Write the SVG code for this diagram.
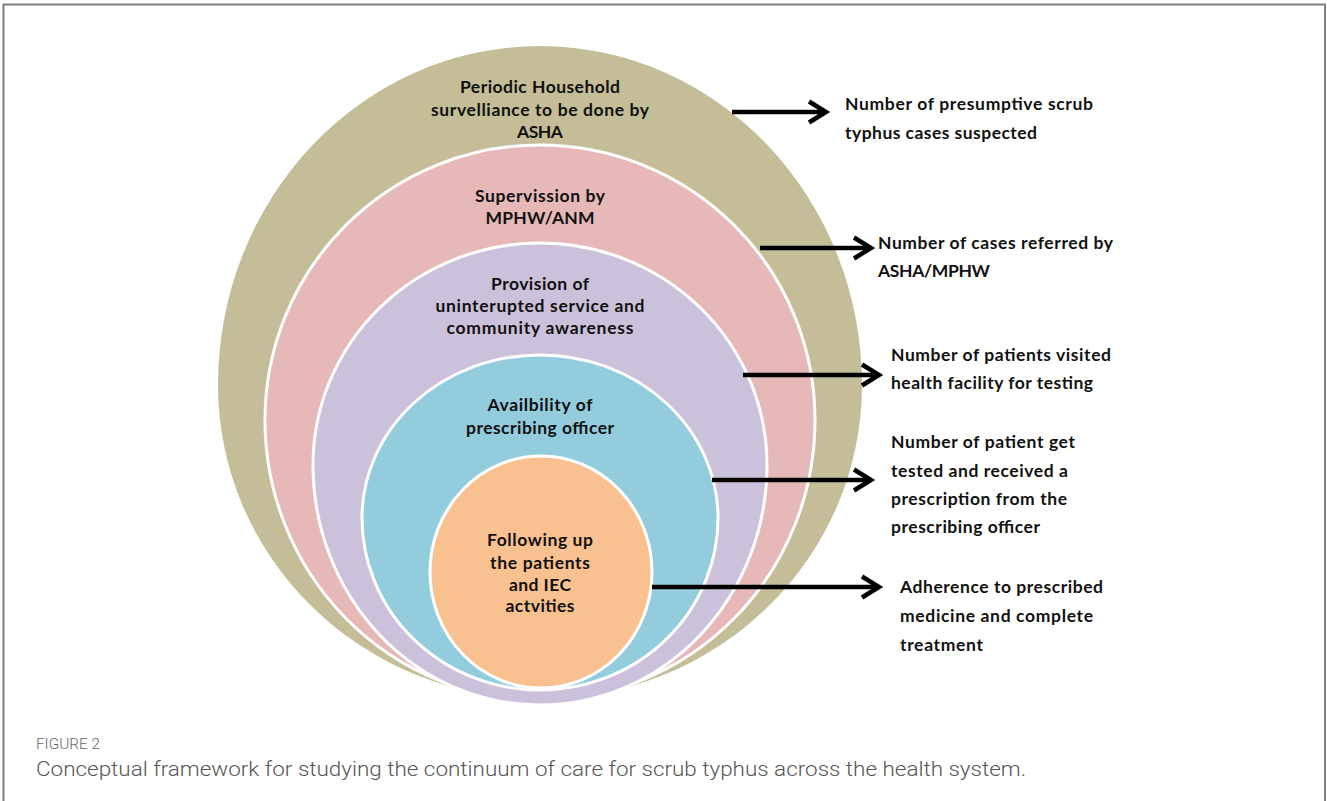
<svg xmlns="http://www.w3.org/2000/svg" width="1327" height="801" viewBox="0 0 1327 801">
  <style>
    .ring { stroke: #ffffff; stroke-width: 3; }
    .lbl { font-family: Lato, "Liberation Sans", sans-serif; font-weight: bold; font-size: 17.5px; fill: #111111; }
    .mid { text-anchor: middle; }
    .arrow { stroke: #000000; stroke-width: 4.5; fill: none; }
    .cap1 { font-family: Roboto, "Liberation Sans", sans-serif; font-weight: 300; font-size: 15px; fill: #666666; }
    .cap2 { font-family: Roboto, "Liberation Sans", sans-serif; font-weight: 300; font-size: 21px; fill: #555555; }
  </style>
  <defs>
    <marker id="chev" markerUnits="userSpaceOnUse" viewBox="-22 -14 30 28" markerWidth="30" markerHeight="28" refX="0" refY="0" orient="auto">
      <path d="M -17 -10.5 L 0 0 L -17 10.5" fill="none" stroke="#000000" stroke-width="4.5"/>
    </marker>
  </defs>

  <rect x="0" y="0" width="1327" height="801" fill="#ffffff"/>
  <!-- panel frame -->
  <rect x="3.5" y="4.5" width="1321.5" height="810" fill="none" stroke="#7f7f7f" stroke-width="2"/>

  <!-- nested egg-shaped levels, outermost first -->
  <g id="level-household">
    <path fill="#C4BD97" d="M 218 385 A 322 339 0 0 1 862 385 A 322 314 0 0 1 218 385 Z"/>
    <text class="lbl mid" x="540" y="93" textLength="160">Periodic Household</text>
    <text class="lbl mid" x="540" y="116" textLength="218">survelliance to be done by</text>
    <text class="lbl mid" x="540" y="138" textLength="46">ASHA</text>
  </g>
  <g id="level-supervision">
    <path class="ring" fill="#E6B8B7" d="M 265 420 A 275 275 0 0 1 815 420 A 275 280 0 0 1 265 420 Z"/>
    <text class="lbl mid" x="540" y="202" textLength="130">Supervission by</text>
    <text class="lbl mid" x="540" y="224" textLength="109">MPHW/ANM</text>
  </g>
  <g id="level-service">
    <path class="ring" fill="#CCC1DA" d="M 313 465 A 227 222 0 0 1 767 465 A 227 240 0 0 1 313 465 Z"/>
    <text class="lbl mid" x="540" y="290" textLength="98">Provision of</text>
    <text class="lbl mid" x="540" y="312" textLength="209">uninterupted service and</text>
    <text class="lbl mid" x="540" y="334" textLength="187">community awareness</text>
  </g>
  <g id="level-officer">
    <path class="ring" fill="#93CDDD" d="M 362 518 A 178 163 0 0 1 718 518 A 178 172 0 0 1 362 518 Z"/>
    <text class="lbl mid" x="540" y="411" textLength="105">Availbility of</text>
    <text class="lbl mid" x="540" y="434" textLength="148">prescribing officer</text>
  </g>
  <g id="level-followup">
    <path class="ring" fill="#F9C090" d="M 430 572 A 111 116 0 0 1 652 572 A 111 116 0 0 1 430 572 Z"/>
    <text class="lbl mid" x="540" y="546" textLength="106">Following up</text>
    <text class="lbl mid" x="540" y="569" textLength="100">the patients</text>
    <text class="lbl mid" x="540" y="591" textLength="62">and IEC</text>
    <text class="lbl mid" x="540" y="612" textLength="69">actvities</text>
  </g>

  <!-- connectors from each level to its indicator -->
  <g id="connectors">
    <line class="arrow" x1="732" y1="112" x2="826" y2="112" marker-end="url(#chev)"/>
    <line class="arrow" x1="760" y1="248" x2="871" y2="248" marker-end="url(#chev)"/>
    <line class="arrow" x1="743" y1="375" x2="879" y2="375" marker-end="url(#chev)"/>
    <line class="arrow" x1="712" y1="480" x2="871" y2="480" marker-end="url(#chev)"/>
    <line class="arrow" x1="652" y1="587" x2="879" y2="587" marker-end="url(#chev)"/>
  </g>

  <!-- indicators -->
  <g id="ind-suspected">
    <text class="lbl" x="845" y="110" textLength="248">Number of presumptive scrub</text>
    <text class="lbl" x="845" y="139" textLength="192">typhus cases suspected</text>
  </g>
  <g id="ind-referred">
    <text class="lbl" x="878" y="249" textLength="235">Number of cases referred by</text>
    <text class="lbl" x="878" y="277" textLength="112">ASHA/MPHW</text>
  </g>
  <g id="ind-visited">
    <text class="lbl" x="891" y="361" textLength="220">Number of patients visited</text>
    <text class="lbl" x="891" y="389" textLength="202">health facility for testing</text>
  </g>
  <g id="ind-prescribed">
    <text class="lbl" x="891" y="448" textLength="184">Number of patient get</text>
    <text class="lbl" x="891" y="477" textLength="177">tested and received a</text>
    <text class="lbl" x="891" y="505" textLength="176">prescription from the</text>
    <text class="lbl" x="891" y="533" textLength="149">prescribing officer</text>
  </g>
  <g id="ind-adherence">
    <text class="lbl" x="900" y="593" textLength="203">Adherence to prescribed</text>
    <text class="lbl" x="900" y="622" textLength="193">medicine and complete</text>
    <text class="lbl" x="900" y="651" textLength="83">treatment</text>
  </g>

  <!-- caption -->
  <text class="cap1" x="36" y="749" textLength="64" lengthAdjust="spacingAndGlyphs">FIGURE 2</text>
  <text class="cap2" x="36" y="776" textLength="990" lengthAdjust="spacingAndGlyphs">Conceptual framework for studying the continuum of care for scrub typhus across the health system.</text>
</svg>
